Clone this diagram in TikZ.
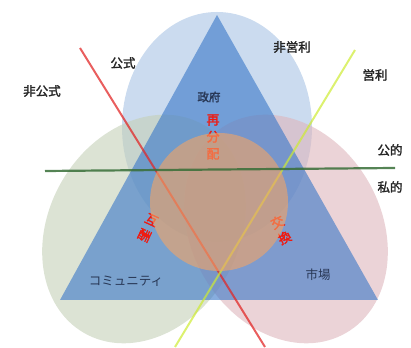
\documentclass[tikz,border=0pt]{standalone}
\usepackage{fontspec}
\newfontfamily\cjk[AutoFakeBold=2]{Noto Sans CJK JP}
\begin{document}
\begin{tikzpicture}[x=1pt,y=1pt,
  lobe/.style={fill opacity=0.6, draw=none},
  lbl/.style={font=\cjk\fontsize{12.5}{13}\selectfont\bfseries, text=black!85},
  inner/.style={font=\cjk\fontsize{12.5}{13}\selectfont, text={rgb,255:red,40;green,55;blue,85}},
  redlbl/.style={font=\cjk\fontsize{13}{17}\selectfont\bfseries, text={rgb,255:red,240;green,25;blue,15}, align=center, inner sep=0pt}]
\definecolor{topC}{RGB}{168,195,228}
\definecolor{leftC}{RGB}{196,208,184}
\definecolor{rightC}{RGB}{222,182,188}
\definecolor{triC}{RGB}{55,118,200}
\definecolor{cirC}{RGB}{245,165,100}
\definecolor{redL}{RGB}{225,40,40}
\definecolor{yelL}{RGB}{205,235,50}
\definecolor{grnL}{RGB}{55,110,55}
\useasboundingbox (0,0) rectangle (411,347);
\coordinate (r1) at (80,299); \coordinate (r2) at (265,0);
\coordinate (y1) at (355,297); \coordinate (y2) at (175,0);
\coordinate (g1) at (45,176); \coordinate (g2) at (395,179);
% lobes
\fill[topC, lobe] (217,220) ellipse [x radius=95, y radius=115];
\fill[leftC, lobe, rotate around={-30:(144,118)}] (144,118) ellipse [x radius=95, y radius=120];
\fill[rightC, lobe, rotate around={30:(286,118)}] (286,118) ellipse [x radius=95, y radius=120];
% triangle
\fill[triC, fill opacity=0.6] (217,332) -- (60,47) -- (378,47) -- cycle;
% diagonal lines
\draw[redL, line width=2pt, draw opacity=0.75] (r1) -- (r2);
\draw[yelL, line width=2pt, draw opacity=0.7] (y1) -- (y2);
% red labels (under circle)
\node[redlbl] (saibun) at (213,210) {再\\分\\配};
\node[redlbl, rotate=-25] (gosyu) at (148,119) {互\\酬};
\node[redlbl, rotate=25] (kokan) at (281,117) {交\\換};
% circle
\fill[cirC, fill opacity=0.6] (219,145) circle [radius=69];
% horizontal line
\draw[grnL, line width=2.2pt, draw opacity=0.85] (g1) -- (g2);
% labels
\node[lbl] (hikoushiki) at (42,256) {非公式};
\node[lbl] (koushiki) at (123,284) {公式};
\node[lbl] (hieiri) at (292,300) {非営利};
\node[lbl] (eiri) at (375,272) {営利};
\node[lbl] (kouteki) at (390,197) {公的};
\node[lbl] (shiteki) at (390,160) {私的};
\node[inner, font=\cjk\fontsize{11.5}{12}\selectfont\bfseries] (seifu) at (209,250) {政府};
\node[inner] (comm) at (126,66) {コミュニティ};
\node[inner] (shijo) at (318,72) {市場};
\end{tikzpicture}
\end{document}
